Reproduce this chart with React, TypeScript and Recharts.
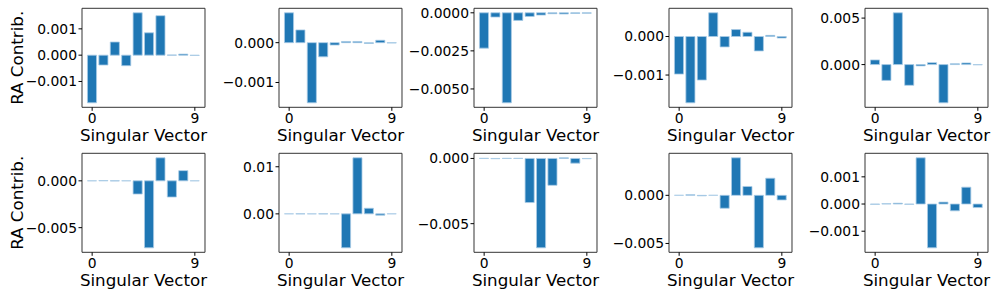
import { BarChart, Bar, XAxis, YAxis, ReferenceArea } from "recharts";

// singular vector index 0..9
const vectorIdx = [0, 1, 2, 3, 4, 5, 6, 7, 8, 9];
const xTicks = [0, 9];

// RA contributions, top row
const contribA1 = [-0.00181, -0.000375, 0.0005, -0.0004, 0.00161, 0.00085, 0.0015, 0.00001, 0.00004, -0.00001];
const contribA2 = [0.00075, 0.00032, -0.00151, -0.000355, -0.00006, 0.00003, 0.00003, -0.00002, 0.00006, -0.00001];
const contribA3 = [-0.00232, -0.00028, -0.00591, -0.0005, -0.00024, -0.00015, -0.00006, -0.00008, -0.00004, -0.00003];
const contribA4 = [-0.000975, -0.00172, -0.00113, 0.000615, -0.00027, 0.00018, 0.00011, -0.000375, 0.00003, -0.00004];
const contribA5 = [0.0005, -0.0017, 0.00557, -0.00223, -0.00014, 0.00021, -0.00411, 0.0001, 0.00018, -0.00003];

// RA contributions, bottom row
const contribB1 = [0.00001, 0.00003, -0.00001, 0.00001, -0.00141, -0.00715, 0.00246, -0.00173, 0.00109, 0.00001];
const contribB2 = [0.00002, -0.00001, 0.00001, -0.00002, 0.00001, -0.0072, 0.0119, 0.00119, -0.00028, 0.00002];
const contribB3 = [0.00001, -0.00002, 0.00001, 0.00001, -0.00338, -0.00685, -0.00206, 0.00005, -0.00036, -0.00002];
const contribB4 = [0.00001, 0.00007, -0.00005, 0.00001, -0.00134, 0.0039, 0.00092, -0.00545, 0.00178, -0.00048];
const contribB5 = [-0.00001, 0.00001, 0.00003, -0.00001, 0.0017, -0.00161, 0.00007, -0.00025, 0.00062, -0.00013];

// y tick values and decimals per panel
const ticksA = [[-0.001, 0, 0.001], [-0.001, 0], [-0.005, -0.0025, 0], [-0.001, 0], [0, 0.005]];
const ticksB = [[-0.005, 0], [0, 0.01], [-0.005, 0], [-0.005, 0], [-0.001, 0, 0.001]];
const digitsA = [3, 3, 4, 3, 3];
const digitsB = [3, 2, 3, 3, 3];

const rows = [
  [contribA1, contribA2, contribA3, contribA4, contribA5],
  [contribB1, contribB2, contribB3, contribB4, contribB5],
];
const rowTicks = [ticksA, ticksB];
const rowDigits = [digitsA, digitsB];

const colLeft = [82, 279, 474, 669, 865];
const BOX_W = 123;
const BOX_H = 99;
const Y_W = 82;
const X_H = 36;
const X_DOMAIN: [number, number] = [-0.89, 9.89];

function fmt(v: number, d: number) {
  const s = Math.abs(v).toFixed(d);
  return v < 0 ? "\u2212" + s : s;
}

function Panel({ values, ticks, digits, showY }: { values: number[]; ticks: number[]; digits: number; showY: boolean }) {
  const data = vectorIdx.map((i) => ({ i, ra: values[i] }));
  const lo = Math.min(0, ...values);
  const hi = Math.max(0, ...values);
  const pad = (hi - lo) * 0.05;
  const dom: [number, number] = [lo - pad, hi + pad];

  return (
    <BarChart
      width={Y_W + BOX_W + 6}
      height={8.3 + BOX_H + X_H + 8}
      data={data}
      margin={{ top: 8.3, right: 6, bottom: 8, left: 0 }}
    >
      <XAxis
        type="number"
        dataKey="i"
        domain={X_DOMAIN}
        allowDataOverflow
        ticks={xTicks}
        interval={0}
        height={X_H}
        tickSize={3.5}
        tickMargin={2}
        axisLine={false}
        tickLine={{ stroke: "#000" }}
        tick={{ fontSize: 13.9, fill: "#000" }}
        label={{ value: "Singular Vector", position: "insideBottom", offset: 2.5, fontSize: 16.7, fill: "#000" }}
      />
      <YAxis
        type="number"
        domain={dom}
        allowDataOverflow
        ticks={ticks}
        interval={0}
        width={Y_W}
        tickSize={3.5}
        tickMargin={1.5}
        axisLine={false}
        tickLine={{ stroke: "#000" }}
        tick={{ fontSize: 13.9, fill: "#000" }}
        tickFormatter={(v: number) => fmt(v, digits)}
        label={
          showY
            ? { value: "RA Contrib.", angle: -90, position: "insideLeft", offset: 17, fontSize: 16.7, fill: "#000", style: { textAnchor: "middle" } }
            : undefined
        }
      />
      <Bar dataKey="ra" fill="#1f77b4" stroke="#a9cbe6" strokeWidth={0.8} barSize={9.1} isAnimationActive={false} />
      <ReferenceArea x1={X_DOMAIN[0]} x2={X_DOMAIN[1]} y1={dom[0]} y2={dom[1]} fill="none" stroke="#333" strokeWidth={1} ifOverflow="visible" />
    </BarChart>
  );
}

export default function App() {
  return (
    <div style={{ position: "absolute", left: 0, top: 0, width: 996, height: 299, background: "#fff", fontFamily: "'DejaVu Sans', sans-serif" }}>
      {rows.map((row, r) =>
        row.map((values, c) => (
          <div key={`${r}-${c}`} style={{ position: "absolute", left: colLeft[c] - Y_W, top: r * 145 }}>
            <Panel values={values} ticks={rowTicks[r][c]} digits={rowDigits[r][c]} showY={c === 0} />
          </div>
        ))
      )}
    </div>
  );
}
